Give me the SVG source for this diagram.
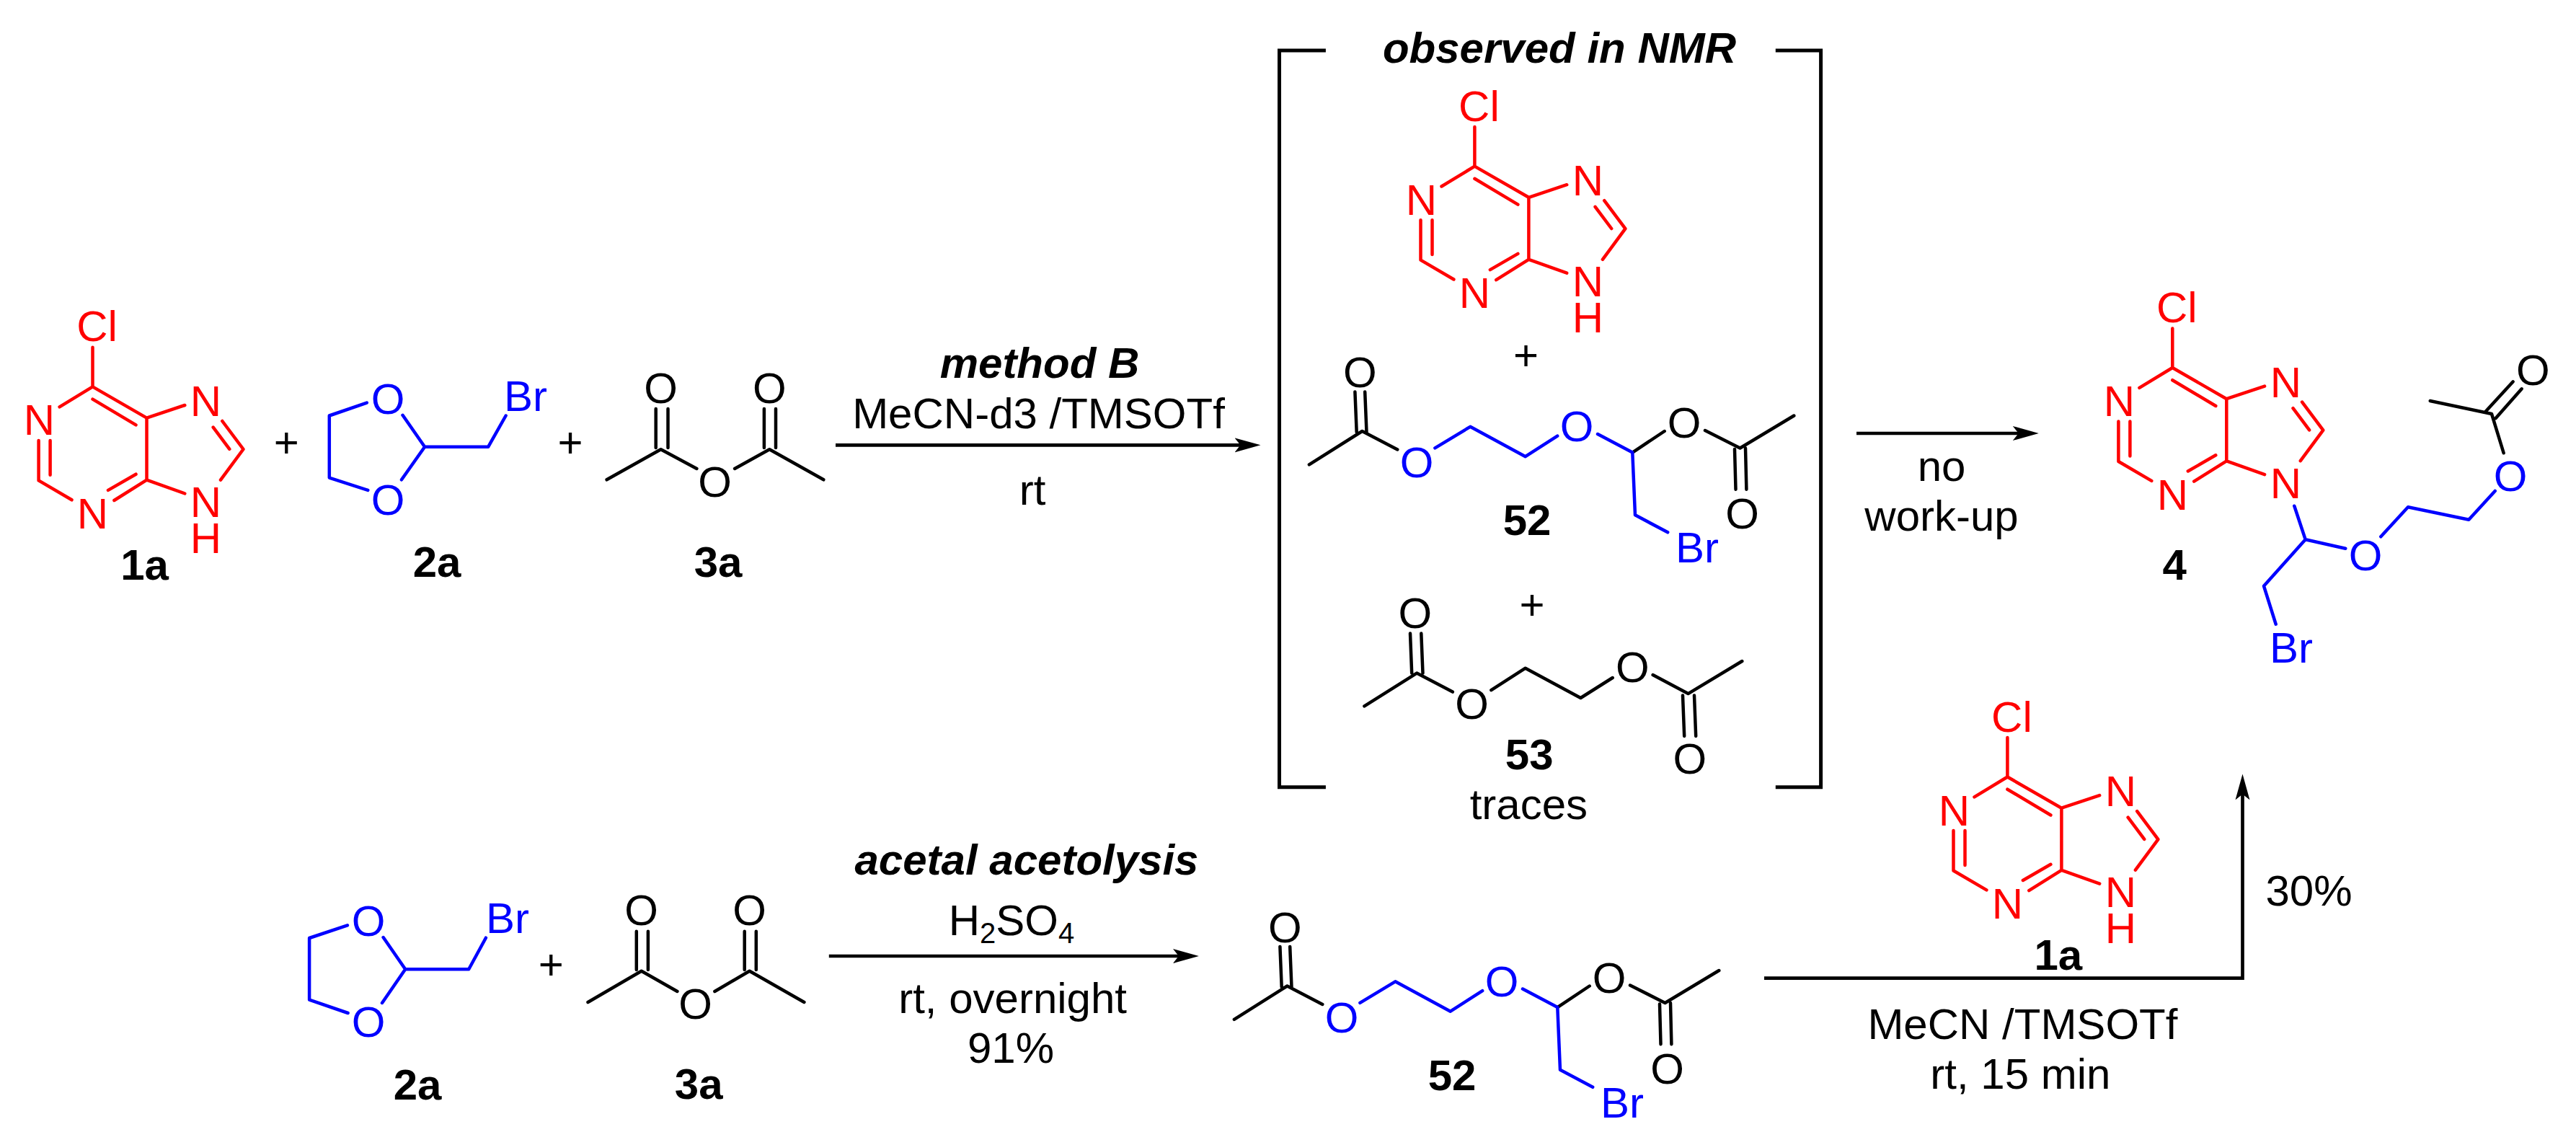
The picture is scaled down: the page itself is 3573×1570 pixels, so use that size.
<svg xmlns="http://www.w3.org/2000/svg" xmlns:xlink="http://www.w3.org/1999/xlink" width="3573" height="1570" viewBox="0 0 3573 1570">
<style>
text{font-family:"Liberation Sans",Arial,sans-serif;font-size:60px;text-anchor:middle;fill:#000}
.b{font-weight:bold}
.bi{font-weight:bold;font-style:italic}
.red{fill:#f00}
.blue{fill:#00f}
.bond{fill:none;stroke:#000;stroke-width:4.5;stroke-linecap:round;stroke-linejoin:round}
.rb{stroke:#f00}
.bb{stroke:#00f}
.conn{fill:none;stroke:#000;stroke-width:4.7}
.brk{fill:none;stroke:#000;stroke-width:5}
</style>
<defs>
<marker id="head" markerUnits="userSpaceOnUse" markerWidth="36" markerHeight="22" refX="16" refY="11" orient="auto"><path d="M36,11L0,1L8,11L0,21Z" fill="#000"/></marker>
<path id="purine-bonds" class="bond rb" d="M0,0L-45.9,27.9M-74.9,74.6V130L-29,156.9M-58.9,74.6V122.4M29.9,157.6L75,129.3V43.2L0,0M21.5,143.5L60,121.3M0,17.2L60,53M75,43.2L127.8,25.6M75,129.3L127.8,148.1M179.8,47.6L209,86.6L177.5,129.2M167.2,56.2L189.8,86.4M0,0V-54.6"/>
</defs>
<g id="connectors">
<path class="conn" marker-end="url(#head)" d="M1159,617.3H1728.5"/>
<path class="conn" marker-end="url(#head)" d="M2575,601H2807.8"/>
<path class="conn" marker-end="url(#head)" d="M1149.8,1326H1642.9"/>
<path class="conn" marker-end="url(#head)" d="M2447,1356.7H3110.5V1093.4"/>
</g>
<g id="bracket-left"><path class="brk" d="M1838.9,70H1774.5V1091.8H1838.9"/></g>
<g id="bracket-right"><path class="brk" d="M2462.8,70H2525.6V1091.8H2462.8"/></g>
<g id="node-1a" transform="translate(128.5,536.4)">
<use href="#purine-bonds" xlink:href="#purine-bonds"/>
<text class="red" x="6" y="-63">Cl</text><text class="red" x="-74" y="67">N</text><text class="red" x="0" y="196.5">N</text><text class="red" x="157" y="40.5">N</text><text class="red" x="157" y="180.5">N</text><text class="red" x="157" y="230.5">H</text>
</g>
<text id="label-1a" class="b" x="200.5" y="804">1a</text>
<g id="plus-1"><text x="397.3" y="633.5">+</text></g>
<g id="node-2a">
<path class="bond bb" d="M508.8,558.6L456.8,576.5V662.6L510.3,679.9M558.5,575.8L589.1,619.8L557,665.3M589.1,619.8H677.1L701.6,576.5"/>
<text class="blue" x="538" y="574">O</text><text class="blue" x="538" y="714">O</text><text class="blue" x="729" y="570">Br</text>
<text class="b" x="606" y="800">2a</text>
</g>
<g id="plus-2"><text x="791" y="633.5">+</text></g>
<g id="node-3a">
<path class="bond" d="M909.7,567V621M926.5,567V621M1059.9,567V621M1076,567V621M841.6,665.3L916.6,623.2L966.4,650M1142.3,665.3L1067.3,623.2L1019.1,650"/>
<text x="916.6" y="559">O</text><text x="1067.3" y="559">O</text><text x="991.6" y="689">O</text>
<text class="b" x="996" y="800">3a</text>
</g>
<text class="bi" x="1442" y="524">method B</text>
<text x="1440.5" y="594">MeCN-d3 /TMSOTf</text>
<text x="1432" y="700">rt</text>
<text class="bi" x="2163" y="86.7">observed in NMR</text>
<g id="node-purine-mid" transform="translate(2045.4,230.6)">
<use href="#purine-bonds" xlink:href="#purine-bonds"/>
<text class="red" x="6" y="-63">Cl</text><text class="red" x="-74" y="67">N</text><text class="red" x="0" y="196.5">N</text><text class="red" x="157" y="40.5">N</text><text class="red" x="157" y="180.5">N</text><text class="red" x="157" y="230.5">H</text>
</g>
<g id="plus-3"><text x="2116.6" y="512.5">+</text></g>
<g id="node-52-top">
<path class="bond" d="M1879.4,543.4L1881.7,599.5M1893.2,543.4L1895.5,599.5M1815.9,644.4L1889.4,598L1938.3,623.5M2264.3,627.6L2308.7,598M2365,597L2413.5,621.5L2488.3,576.5M2406,623L2407.5,678.8M2421,621.5L2422.4,678.8"/>
<path class="bond bb" d="M1990.4,621.4L2039.3,591.8L2115.8,633.2L2160.2,604.6M2216,602L2264.3,627.6L2268,714.3L2313.2,738.3"/>
<text x="1886.3" y="537">O</text><text class="blue" x="1965" y="662">O</text><text class="blue" x="2187" y="612">O</text><text x="2336" y="607">O</text><text x="2416.5" y="733">O</text><text class="blue" x="2354" y="780">Br</text>
<text class="b" x="2118" y="742.3">52</text>
</g>
<g id="plus-4"><text x="2125" y="858.5">+</text></g>
<g id="node-53">
<path class="bond" d="M1956,878.6L1958.2,933.6M1971.3,878.6L1973.5,933.6M1892.4,979.3L1965.1,933.6L2014.8,959.6M2068.4,957.2L2115.8,926.7L2192.4,968L2236.7,940M2292.6,936L2341.5,962.1L2416.3,917M2334,964.5L2336.2,1021M2350,964.5L2352.2,1021"/>
<text x="1962.8" y="870.6">O</text><text x="2041.6" y="997">O</text><text x="2264.3" y="945.8">O</text><text x="2343.9" y="1073">O</text>
<text class="b" x="2121.2" y="1066.7">53</text>
<text x="2120.4" y="1136.4">traces</text>
</g>
<text x="2693" y="667">no</text>
<text x="2693" y="735.5">work-up</text>
<g id="node-4">
<g transform="translate(3013.3,510)">
<use href="#purine-bonds" xlink:href="#purine-bonds"/>
<text class="red" x="6" y="-63">Cl</text><text class="red" x="-74" y="67">N</text><text class="red" x="0" y="196.5">N</text><text class="red" x="157" y="40.5">N</text><text class="red" x="157" y="180.5">N</text>
</g>
<path class="bond bb" d="M3182.3,701.7L3197.7,748.3L3253.3,760.7M3302.3,744.3L3340,703.3L3424.3,720.7L3460.7,681M3197.7,748.3L3140,812.7L3156.7,865.7"/>
<path class="bond" d="M3472.7,628.3L3456,574L3370.7,556M3446.7,571.7L3485.7,529.3M3461.7,580L3497.7,539.3"/>
<text class="blue" x="3281" y="790.5">O</text><text class="blue" x="3482" y="680.5">O</text><text x="3513.3" y="534">O</text><text class="blue" x="3178" y="919">Br</text>
<text class="b" x="3016.3" y="803.8">4</text>
</g>
<g id="node-2a-bottom">
<path class="bond bb" d="M481.9,1283.3L429.1,1301V1386.7L482.6,1405M531.6,1300L562.2,1344.3L530,1391M562.2,1344.3H650.2L673.9,1300.7"/>
<text class="blue" x="511" y="1298">O</text><text class="blue" x="511" y="1438">O</text><text class="blue" x="704" y="1294">Br</text>
<text class="b" x="579" y="1525">2a</text>
</g>
<g id="plus-5"><text x="764.2" y="1357.5">+</text></g>
<g id="node-3a-bottom">
<path class="bond" d="M882.8,1291.7V1345M898.9,1291.7V1345M1032.7,1291.7V1345M1048.8,1291.7V1345M815.5,1390L889.7,1346.7L939.4,1375M1115.4,1390L1039.6,1346.7L991.4,1375"/>
<text x="889.7" y="1283">O</text><text x="1039.6" y="1283">O</text><text x="964.7" y="1413">O</text>
<text class="b" x="969.2" y="1524">3a</text>
</g>
<text class="bi" x="1424" y="1212.6">acetal acetolysis</text>
<text x="1403" y="1297">H<tspan font-size="40" dy="11">2</tspan><tspan dy="-11">SO</tspan><tspan font-size="40" dy="11">4</tspan></text>
<text x="1404.6" y="1405">rt, overnight</text>
<text x="1402" y="1474">91%</text>
<g id="node-52-bottom" transform="translate(-104,769.5)">
<path class="bond" d="M1879.4,543.4L1881.7,599.5M1893.2,543.4L1895.5,599.5M1815.9,644.4L1889.4,598L1938.3,623.5M2264.3,627.6L2308.7,598M2365,597L2413.5,621.5L2488.3,576.5M2406,623L2407.5,678.8M2421,621.5L2422.4,678.8"/>
<path class="bond bb" d="M1990.4,621.4L2039.3,591.8L2115.8,633.2L2160.2,604.6M2216,602L2264.3,627.6L2268,714.3L2313.2,738.3"/>
<text x="1886.3" y="537">O</text><text class="blue" x="1965" y="662">O</text><text class="blue" x="2187" y="612">O</text><text x="2336" y="607">O</text><text x="2416.5" y="733">O</text><text class="blue" x="2354" y="780">Br</text>
<text class="b" x="2118" y="742.3">52</text>
</g>
<g id="node-1a-bottom" transform="translate(2784.4,1077.5)">
<use href="#purine-bonds" xlink:href="#purine-bonds"/>
<text class="red" x="6" y="-63">Cl</text><text class="red" x="-74" y="67">N</text><text class="red" x="0" y="196.5">N</text><text class="red" x="157" y="40.5">N</text><text class="red" x="157" y="180.5">N</text><text class="red" x="157" y="230.5">H</text>
</g>
<text class="b" x="2854.8" y="1345">1a</text>
<text x="3202.5" y="1255.6">30%</text>
<text x="2805.4" y="1440.6">MeCN /TMSOTf</text>
<text x="2802.4" y="1510">rt, 15 min</text>
</svg>
